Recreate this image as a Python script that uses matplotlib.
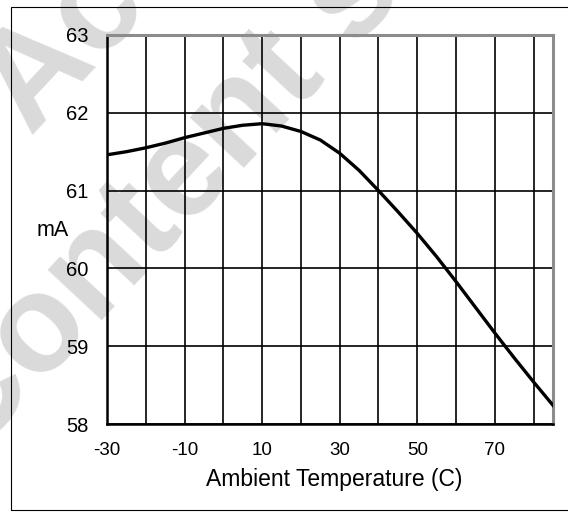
import matplotlib.pyplot as plt
from matplotlib.patches import Rectangle

plt.rcParams['font.family'] = ['Liberation Sans', 'DejaVu Sans']
plt.rcParams['axes.unicode_minus'] = False

# Supply current vs. ambient temperature
temp_c = [-30, -25, -20, -15, -10, -5, 0, 5, 10, 15, 20, 25, 30, 35, 40,
          45, 50, 55, 60, 65, 70, 75, 80, 85]
current_ma = [61.46, 61.50, 61.55, 61.61, 61.68, 61.74, 61.80, 61.84, 61.86,
              61.83, 61.76, 61.65, 61.48, 61.26, 61.00, 60.73, 60.45, 60.15,
              59.83, 59.50, 59.17, 58.85, 58.54, 58.24]

x_labeled = [-30, -10, 10, 30, 50, 70]
x_grid = [-20, 0, 20, 40, 60, 80]
y_ticks = [58, 59, 60, 61, 62, 63]

W, H = 568, 512
fig = plt.figure(figsize=(W / 100, H / 100), dpi=100)
ax = fig.add_axes([107 / W, 1 - 424 / H, 446 / W, 389 / H])
ax.set_facecolor('none')

# faint watermark behind the chart
wm = dict(color='#dadada', fontsize=100, fontweight='bold', rotation=47,
          rotation_mode='anchor', ha='left', va='baseline', zorder=-5)
fig.text(30 / W, 1 - 135 / H, 'Accurate', **wm)
fig.text(-30 / W, 1 - 462 / H, 'Content subject', **wm)

ax.plot(temp_c, current_ma, color='black', lw=2.4, zorder=3)

ax.set_xlim(-30, 85)
ax.set_ylim(58, 63)
ax.set_xticks(x_labeled)
ax.set_xticks(x_grid, minor=True)
ax.set_yticks(y_ticks)
ax.grid(True, which='both', color='black', lw=1.2)
ax.tick_params(which='both', length=0, colors='black')
ax.tick_params(axis='x', labelsize=13.5, pad=13)
ax.tick_params(axis='y', labelsize=14.5, pad=13.5)

for side in ('top', 'right'):
    ax.spines[side].set_color('#8c8c8c')
    ax.spines[side].set_linewidth(2.2)
for side in ('left', 'bottom'):
    ax.spines[side].set_color('black')
    ax.spines[side].set_linewidth(1.8)

fig.text(334 / W, 1 - 486 / H, 'Ambient Temperature (C)', fontsize=16.5,
         ha='center', va='baseline')
fig.text(52.5 / W, 1 - 230 / H, 'mA', fontsize=15.5, ha='center', va='center')

# outer frame around the figure
fig.patches.append(Rectangle((11 / W, 1 - 510 / H), 1.0, (510 - 7) / H,
                             transform=fig.transFigure, fill=False,
                             edgecolor='black', lw=0.8, zorder=10))

fig.savefig('out.png', dpi=100)
